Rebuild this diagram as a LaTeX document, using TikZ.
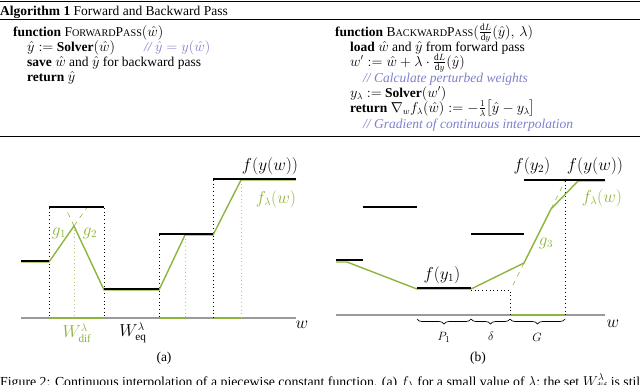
\documentclass[tikz,border=0pt]{standalone}
\usepackage{amsmath,amssymb}
\usepackage{fontspec}
\setmainfont{Liberation Serif}
\usepackage{xcolor}
\usetikzlibrary{decorations.pathreplacing}
\definecolor{InterpGreen}{HTML}{8DB43C}
\definecolor{CommentPurple}{HTML}{7F7FCC}
\definecolor{AxisGray}{HTML}{9A9A9A}
\newcommand{\fsc}[2]{#1{\fontsize{10.2}{12}\selectfont #2}}

\begin{document}
\begin{tikzpicture}[
    x=1pt,y=-1pt,
    font=\fontsize{13.5}{15}\selectfont,
    algline/.style={anchor=base west,inner sep=0pt},
    algcomment/.style={algline,text=CommentPurple,font=\fontsize{13.5}{15}\selectfont\itshape},
    plotlabel/.style={inner sep=0pt,font=\fontsize{16}{18}\selectfont},
    bracelabel/.style={inner sep=0pt,font=\fontsize{12.5}{14}\selectfont},
    level/.style={line width=2.3pt,black,yshift=1.2pt},
    interp/.style={line width=1.4pt,InterpGreen,line join=round},
    ext/.style={line width=0.6pt,InterpGreen,dash pattern=on 5pt off 5pt},
    axisline/.style={line width=1.4pt,AxisGray},
    axisgreen/.style={line width=1.6pt,InterpGreen},
    guide/.style={line width=0.9pt,black,dash pattern=on 0.9pt off 2.8pt},
    guidegreen/.style={line width=0.9pt,InterpGreen!70,dash pattern=on 0.9pt off 2.8pt},
    cbrace/.style={decorate,decoration={brace,mirror,amplitude=5pt},line width=0.7pt}
  ]
  \useasboundingbox (0,0) rectangle (640,384);

  % algorithm box
  \draw[line width=1.8pt] (0,1.5) -- (640,1.5);
  \draw[line width=0.8pt] (0,19) -- (640,19);
  \draw[line width=0.8pt] (0,136) -- (640,136);
  \node[algline] (title) at (0,15) {\textbf{Algorithm 1} Forward and Backward Pass};

  \node[algline] (fwd) at (13,36) {\textbf{function} \fsc{F}{ORWARD}\fsc{P}{ASS}$(\hat{w})$};
  \node[algline] (fwd1) at (27,51) {$\hat{y} :=$ \textbf{Solver}$(\hat{w})$};
  \node[algcomment] (fwdc) at (144,51) {// $\hat{y} = y(\hat{w})$};
  \node[algline] (fwd2) at (27,66) {\textbf{save} $\hat{w}$ and $\hat{y}$ for backward pass};
  \node[algline] (fwd3) at (27,81) {\textbf{return} $\hat{y}$};

  \node[algline] (bwd) at (335,36) {\textbf{function} \fsc{B}{ACKWARD}\fsc{P}{ASS}$(\tfrac{\mathrm{d}L}{\mathrm{d}y}(\hat{y}),\, \lambda)$};
  \node[algline] (bwd1) at (350,51) {\textbf{load} $\hat{w}$ and $\hat{y}$ from forward pass};
  \node[algline] (bwd2) at (350,66) {$w' := \hat{w} + \lambda\cdot\tfrac{\mathrm{d}L}{\mathrm{d}y}(\hat{y})$};
  \node[algcomment] (bwdc1) at (363,82) {// Calculate perturbed weights};
  \node[algline] (bwd3) at (350,97) {$y_\lambda :=$ \textbf{Solver}$(w')$};
  \node[algline] (bwd4) at (350,112) {\textbf{return} $\nabla_w f_\lambda(\hat{w}) := -\tfrac{1}{\lambda}\bigl[\hat{y} - y_\lambda\bigr]$};
  \node[algcomment] (bwdc2) at (363,128) {// Gradient of continuous interpolation};

  % plot (a)
  \draw[axisline] (21,318) -- (296,318);
  \draw[axisgreen] (49,318) -- (104,318) (159,318) -- (185,318) (213,318) -- (241,318);
  \draw[guide] (49,208) -- (49,318) (104,208) -- (104,318)
    (159,235) -- (159,318) (213,180) -- (213,318);
  \draw[guidegreen] (74,226) -- (74,317) (185,235) -- (185,317) (241,180) -- (241,317);
  \draw[ext] (74,226) -- (86.5,208) (74,226) -- (65.6,208);
  \draw[interp] (21,262) -- (49,262) -- (74,226) -- (104,290) -- (159,290)
    -- (185,235) -- (213,235) -- (241,180) -- (296,180);
  \draw[level] (21,262) -- (49,262);
  \draw[level] (49,208) -- (104,208);
  \draw[level] (104,290) -- (159,290);
  \draw[level] (159,235) -- (213,235);
  \draw[level] (213,180) -- (296,180);
  \node[plotlabel] (fa) at (270,166) {$f(y(w))$};
  \node[plotlabel,text=InterpGreen] (fla) at (276,199) {$f_\lambda(w)$};
  \node[plotlabel,text=InterpGreen] (g1) at (59,233) {$g_1$};
  \node[plotlabel,text=InterpGreen] (g2) at (90,233) {$g_2$};
  \node[plotlabel,text=InterpGreen] (wdif) at (77,333) {$W^\lambda_{\mathrm{dif}}$};
  \node[plotlabel] (weq) at (133,333) {$W^\lambda_{\mathrm{eq}}$};
  \node[plotlabel] (wa) at (302,325) {$w$};
  \node[inner sep=0pt] (capa) at (164,358) {(a)};

  % plot (b)
  \draw[axisline] (336,315) -- (605,315);
  \draw[axisgreen] (510,315) -- (565,315);
  \draw[guide] (471,290) -- (510,290) -- (510,315) (565,181) -- (565,315);
  \draw[ext] (524,263) -- (510.5,290) (551,209) -- (565,181);
  \draw[interp] (336,262) -- (347,262) -- (417,289) -- (471,289) -- (524,263)
    -- (551,209) -- (578,181) -- (605,181);
  \draw[level] (336,261) -- (363,261);
  \draw[level] (363,208) -- (417,208);
  \draw[level] (417,289) -- (471,289);
  \draw[level] (471,235) -- (524,235);
  \draw[level] (524,181) -- (605,181);
  \draw[cbrace] (417,319) -- (471,319);
  \draw[cbrace] (471,319) -- (510,319);
  \draw[cbrace] (510,319) -- (565,319);
  \node[plotlabel] (fy1) at (442,275) {$f(y_1)$};
  \node[plotlabel] (fy2) at (532,166) {$f(y_2)$};
  \node[plotlabel] (fb) at (595,166) {$f(y(w))$};
  \node[plotlabel,text=InterpGreen] (flb) at (602,198) {$f_\lambda(w)$};
  \node[plotlabel,text=InterpGreen] (g3) at (546,243) {$g_3$};
  \node[bracelabel] (p1) at (444,337) {$P_1$};
  \node[bracelabel] (dl) at (491,336) {$\delta$};
  \node[bracelabel] (gg) at (537,337) {$G$};
  \node[plotlabel] (wb) at (613,324) {$w$};
  \node[inner sep=0pt] (capb) at (478,358) {(b)};

  % caption, cut by the page edge
  \node[algline,font=\fontsize{13.8}{15}\selectfont] (caption) at (0,386) {Figure 2: Continuous interpolation of a piecewise constant function. (a) $f_\lambda$ for a small value of $\lambda$; the set $W^\lambda_{\mathrm{dif}}$ is still};
\end{tikzpicture}
\end{document}
